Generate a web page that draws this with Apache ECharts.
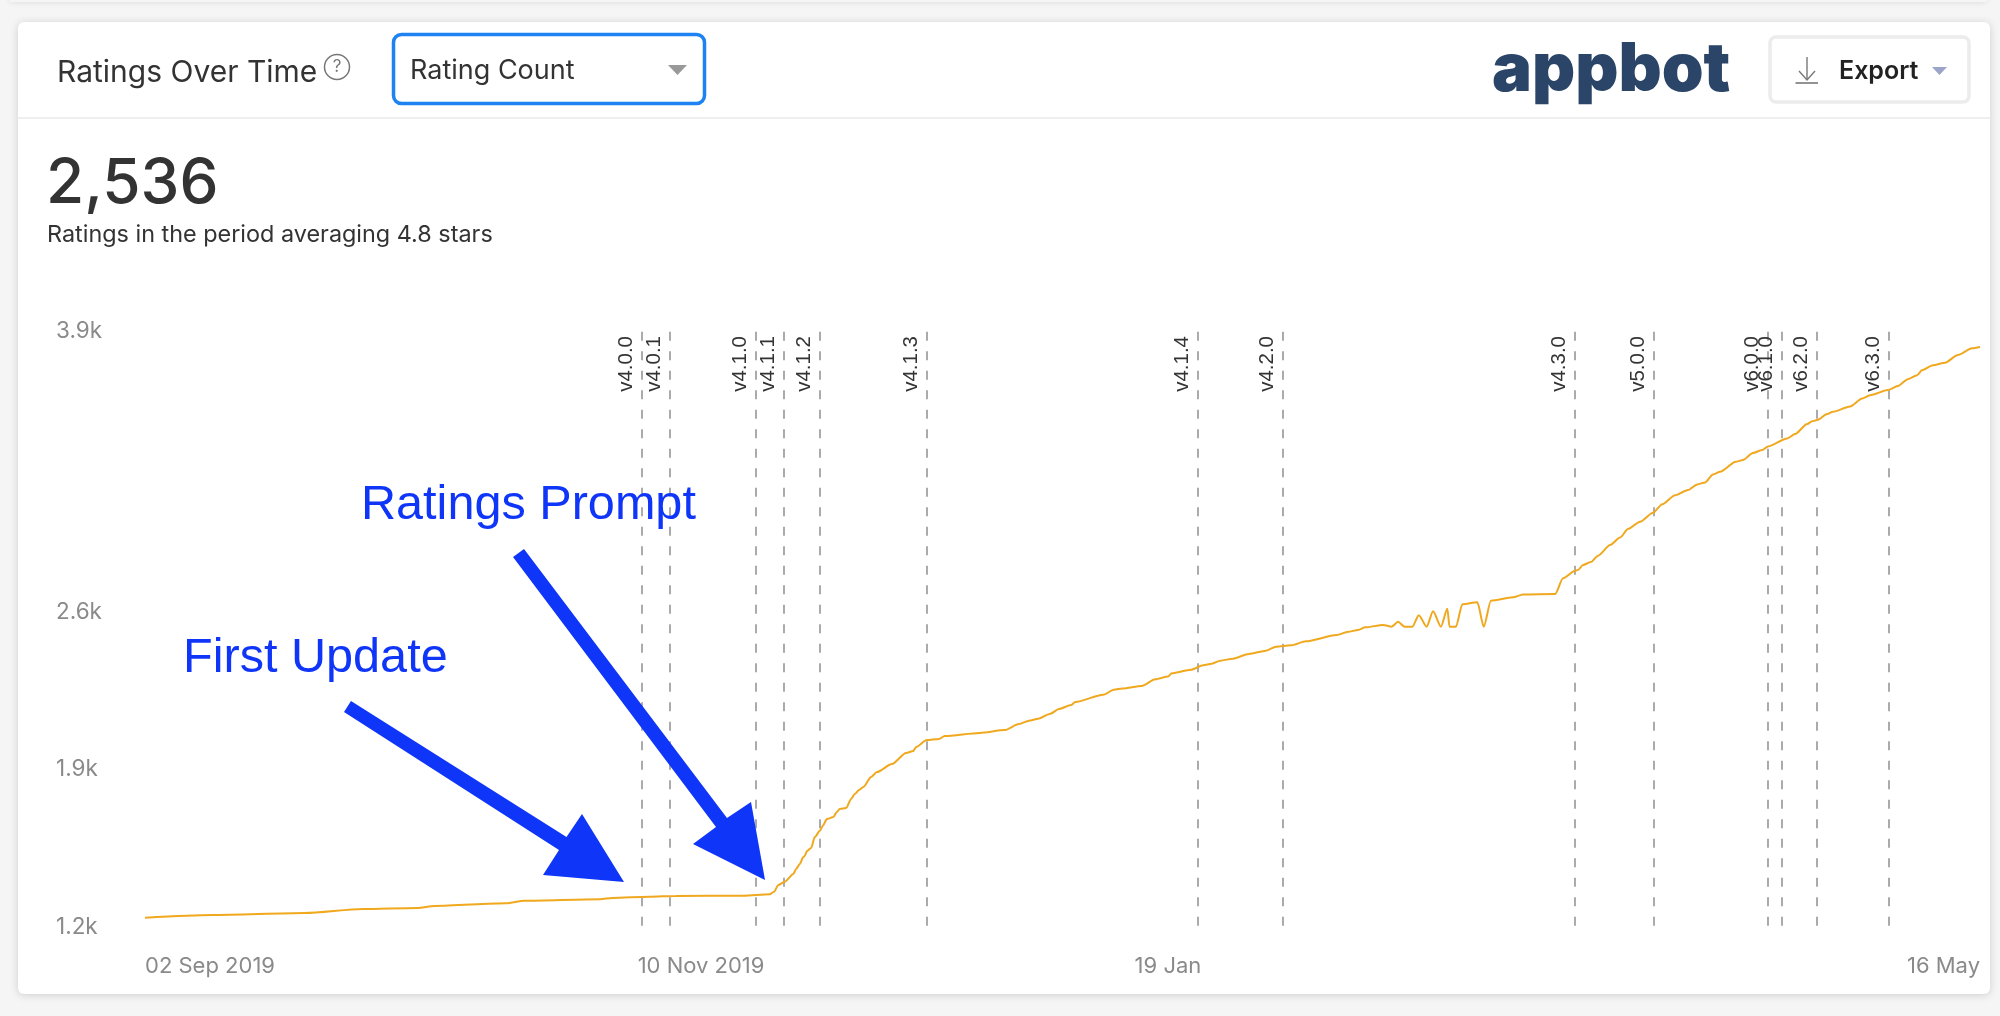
<!DOCTYPE html>
<html>
<head>
<meta charset="utf-8">
<title>Ratings Over Time</title>
<style>html,body{margin:0;padding:0;background:#f5f5f5}#c{width:2000px;height:1016px}</style>
<script src="https://cdn.jsdelivr.net/npm/echarts@6/dist/echarts.min.js"></script>
</head>
<body>
<div id="c"></div>
<script>
const startDate = Date.UTC(2019, 8, 2);
const dayOffsets = [0,9.4,22.4,30.5,38.1,40.6,50.6,53.1,63.7,65.5,70.6,74.4,83.8,87.5,88.1,88.7,89.6,90.8,91.2,91.7,92.2,92.4,92.7,93.3,93.8,94.5,94.9,95.5,96.4,96.9,97.3,98.2,98.9,99.4,100,100.6,101.7,102.5,104.6,106.6,107.6,108,109.5,111.2,112,116.9,120.4,122.4,123.8,125.1,126.8,128,129.7,130.3,134.2,135.7,136.9,139.6,141.5,143.3,143.8,146.5,148.2,149.4,150.6,152.4,154.6,157,158.4,160.5,162.6,166.9,168.5,169.9,170.9,173.4,174.6,175.5,176.4,177.5,178.4,179.5,180.4,181.5,182.4,182.7,183.6,184.5,186.6,187.5,188.5,191.6,193,197.5,198.6,200.3,200.7,201.4,202.5,203.5,205.2,206.6,207.7,209.4,211.2,212.5,214.3,216.1,217.4,218.5,219.6,220.6,222.8,223.8,225.2,226.5,227.3,230,231.1,232.8,233.5,234.2,235.6,236.4,238.8,240.5,241.6,244.1,245.5,246.9,248.2,248.9,250.4,252.1,253.9,255.9,257];
const ratingCounts = [1242,1254,1263,1281,1286,1295,1307,1318,1325,1331,1336,1340,1341,1347,1359,1389,1404,1439,1461,1484,1515,1520,1542,1556,1605,1632,1655,1686,1695,1718,1732,1736,1777,1799,1817,1831,1876,1898,1934,1984,1993,2011,2042,2047,2060,2074,2087,2114,2129,2138,2161,2182,2200,2214,2246,2269,2275,2286,2316,2329,2343,2359,2379,2386,2400,2409,2430,2445,2463,2469,2487,2515,2530,2538,2550,2561,2553,2575,2553,2553,2605,2553,2623,2553,2634,2553,2553,2654,2663,2553,2670,2685,2698,2700,2771,2805,2808,2831,2844,2873,2921,2955,2993,3026,3066,3105,3145,3169,3194,3203,3239,3251,3296,3304,3335,3349,3365,3401,3421,3466,3478,3484,3511,3521,3545,3581,3596,3619,3637,3668,3686,3709,3731,3742,3777,3807,3813];
const versionNames = ['v4.0.0','v4.0.1','v4.1.0','v4.1.1','v4.1.2','v4.1.3','v4.1.4','v4.2.0','v4.3.0','v5.0.0','v6.0.0','v6.1.0','v6.2.0','v6.3.0'];
const versionDays = [69.6,73.5,85.6,89.5,94.5,109.5,147.5,159.4,200.3,211.3,227.3,229.3,234.2,244.2];
const yTicks = [1200,1912,2619,3885];
const xTickDays = [0,69,138.6,257];
const xTickLabels = ['02 Sep 2019','10 Nov 2019','19 Jan','16 May'];

const DAY = 864e5;
const toTime = d => startDate + d * DAY;
const UI = 'Inter, "Noto Sans", sans-serif';
const BLUE = '#0f35f8';

function poly(points, fill, z) {
  return {type:'polygon', shape:{points}, style:{fill}, z, silent:true};
}
function txt(x, y, text, font, fill, extra) {
  return {type:'text', x, y, z:50, silent:true, style:Object.assign({text, font, fill, textVerticalAlign:'middle'}, extra||{})};
}

const chart = echarts.init(document.getElementById('c'), null, {renderer:'canvas'});
chart.setOption({
  animation:false,
  backgroundColor:'#f5f5f5',
  grid:{left:145, right:20, top:331, bottom:89, containLabel:false},
  xAxis:{
    type:'value', min:toTime(0), max:toTime(257), scale:true,
    axisLine:{show:false}, axisTick:{show:false}, splitLine:{show:false},
    axisLabel:{
      customValues:xTickDays.map(toTime),
      formatter:v => {
        const i = xTickDays.findIndex(d => Math.abs(toTime(d) - v) < 1000);
        return i < 0 ? '' : xTickLabels[i];
      },
      color:'#8a8a8a', fontFamily:UI, fontSize:22, margin:28, align:'left',
      alignMaxLabel:'right', hideOverlap:false, showMinLabel:true, showMaxLabel:true
    }
  },
  yAxis:{
    type:'value', min:1200, max:3885,
    axisLine:{show:false}, axisTick:{show:false}, splitLine:{show:false},
    axisLabel:{
      customValues:yTicks,
      formatter:v => (v/1000).toFixed(1)+'k',
      color:'#8a8a8a', fontFamily:UI, fontSize:22.5, margin:89, align:'left', padding:[5,0,0,0]
    }
  },
  series:[{
    type:'line', name:'Rating Count', showSymbol:false, symbol:'none',
    smooth:0.25, smoothMonotone:'x', z:5,
    lineStyle:{color:'#f0a81e', width:2},
    data:dayOffsets.map((d,i)=>[toTime(d), ratingCounts[i]]),
    markLine:{
      silent:true, symbol:'none', precision:6, animation:false,
      lineStyle:{color:'#a2a2a2', width:1.8, type:[9,10.5], dashOffset:18.2},
      label:{position:'insideEndTop', color:'#333', fontFamily:'"Liberation Sans", Arial, sans-serif', fontSize:20.5, distance:5, formatter:p=>p.name},
      data:versionDays.map((d,i)=>({name:versionNames[i], xAxis:toTime(d)}))
    }
  }],
  graphic:{elements:[
    {type:'rect', z:-3, silent:true, shape:{x:10,y:-20,width:1977,height:22}, style:{fill:'#f5f5f5',shadowBlur:6,shadowColor:'rgba(0,0,0,0.12)'}},
    {type:'rect', z:-2, silent:true, shape:{x:18,y:22,width:1972,height:972,r:6}, style:{fill:'#fff',shadowBlur:8,shadowColor:'rgba(0,0,0,0.16)',shadowOffsetY:1}},
    {type:'line', z:-1, silent:true, shape:{x1:18,y1:118,x2:1990,y2:118}, style:{stroke:'#efefef',lineWidth:2}},
    txt(57,73,'Ratings Over Time','400 30px '+UI,'#333'),
    {type:'circle', z:50, silent:true, shape:{cx:337,cy:67,r:12.5}, style:{fill:'none',stroke:'#777',lineWidth:1.5}},
    txt(337,67,'?','400 17px '+UI,'#777',{textAlign:'center'}),
    {type:'rect', z:50, silent:true, shape:{x:393.5,y:34.5,width:311,height:69,r:8}, style:{fill:'#fff',stroke:'#1e82f2',lineWidth:3.5}},
    txt(410,71,'Rating Count','400 27px '+UI,'#333'),
    poly([[668,65],[687,65],[677.5,75]],'#999',51),
    txt(1492,71,'appbot','900 67px Inter, sans-serif','#2b4568'),
    {type:'rect', z:50, silent:true, shape:{x:1770,y:37,width:199,height:65,r:6}, style:{fill:'#fff',stroke:'#ececec',lineWidth:3.5}},
    {type:'line', z:51, silent:true, shape:{x1:1807,y1:57,x2:1807,y2:80}, style:{stroke:'#777',lineWidth:1.4}},
    {type:'polyline', z:51, silent:true, shape:{points:[[1799,71],[1807,80],[1815,71]]}, style:{stroke:'#777',lineWidth:1.4,fill:'none'}},
    {type:'line', z:51, silent:true, shape:{x1:1795.5,y1:83,x2:1818,y2:83}, style:{stroke:'#777',lineWidth:1.6}},
    txt(1839,71,'Export','600 25px '+UI,'#222'),
    poly([[1932,67],[1947,67],[1939.5,75]],'#9aa5c9',51),
    txt(46,184,'2,536','500 62px '+UI,'#333'),
    txt(47,235,'Ratings in the period averaging 4.8 stars','400 23.4px '+UI,'#333'),
    txt(361,506,'Ratings Prompt','400 48.6px "Liberation Sans", Arial, sans-serif',BLUE),
    txt(183,659,'First Update','400 48.6px "Liberation Sans", Arial, sans-serif',BLUE),
    poly([[344,712],[351,701],[566.5,837],[582,814],[624,882],[543,875],[559,850]],BLUE,60),
    poly([[513,557],[524,549],[727,818],[751,802],[765,880],[693,844],[716,827]],BLUE,60)
  ]}
});
</script>
</body>
</html>
